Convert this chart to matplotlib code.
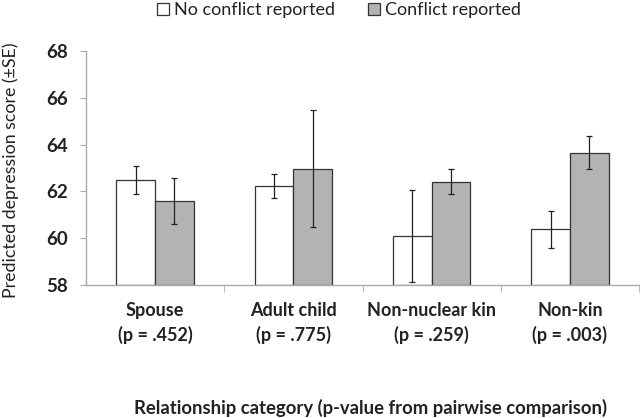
import matplotlib
matplotlib.use("Agg")
import matplotlib.pyplot as plt
import numpy as np

categories = ["Spouse\n(p = .452)", "Adult child\n(p = .775)", "Non-nuclear kin\n(p = .259)", "Non-kin\n(p = .003)"]
no_conflict = [62.49, 62.23, 60.09, 60.38]
no_conflict_se = [0.60, 0.52, 1.95, 0.80]
conflict = [61.59, 62.96, 62.42, 63.65]
conflict_se = [1.00, 2.50, 0.55, 0.70]
yticks = [58, 60, 62, 64, 66, 68]

plt.rcParams['font.family'] = ['Lato', 'DejaVu Sans']

fig = plt.figure(figsize=(6.4, 4.18), dpi=100)
ax = fig.add_axes([86/640, 1-285/418, (639-86)/640, (285-51)/418])

x = np.arange(len(categories))
w = 0.28
ekw = dict(elinewidth=0.9, capsize=2.5, capthick=0.9, ecolor='#222222')
ax.bar(x - w/2, np.array(no_conflict) - 58, w, bottom=58, color='white', edgecolor='#333333',
       linewidth=0.9, yerr=no_conflict_se, error_kw=ekw, label='No conflict reported')
ax.bar(x + w/2, np.array(conflict) - 58, w, bottom=58, color='#b3b3b3', edgecolor='#333333',
       linewidth=0.9, yerr=conflict_se, error_kw=ekw, label='Conflict reported')

ax.set_ylim(58, 68)
ax.set_xlim(-0.5, 3.5)
ax.set_yticks(yticks)
ax.set_yticklabels([str(t) for t in yticks], fontsize=13.5, fontweight='bold', color='#222222')
ax.set_xticks(x)
ax.set_xticklabels(categories, fontsize=13, fontweight='bold', color='#222222', linespacing=1.45)
ax.tick_params(axis='x', length=0, pad=12)
ax.set_xticks(np.arange(0.5, 3.6, 1.0), minor=True)
ax.tick_params(axis='x', which='minor', length=5, color='#aaaaaa', direction='out')
ax.tick_params(axis='y', length=4.3, color='#aaaaaa', direction='out', pad=8.5)

for s in ['top', 'right']:
    ax.spines[s].set_visible(False)
for s in ['left', 'bottom']:
    ax.spines[s].set_color('#aaaaaa')
    ax.spines[s].set_linewidth(1.0)

ax.set_ylabel('Predicted depression score (±SE)', fontsize=12.8, color='#222222')
ax.yaxis.set_label_coords((19 - 86) / 553, 0.49)
fig.text(371/640, 1-408/418, 'Relationship category (p-value from pairwise comparison)',
         ha='center', va='center', fontsize=13.3, fontweight='bold', color='#222222')

leg = fig.legend(loc='center', bbox_to_anchor=(339/640, 1-10/418), ncol=2, frameon=False,
                 fontsize=13, handlelength=0.67, handleheight=0.67, handletextpad=0.28,
                 columnspacing=1.8, borderpad=0, borderaxespad=0)
for t in leg.get_texts():
    t.set_color('#222222')

fig.savefig('out.png', dpi=100)
